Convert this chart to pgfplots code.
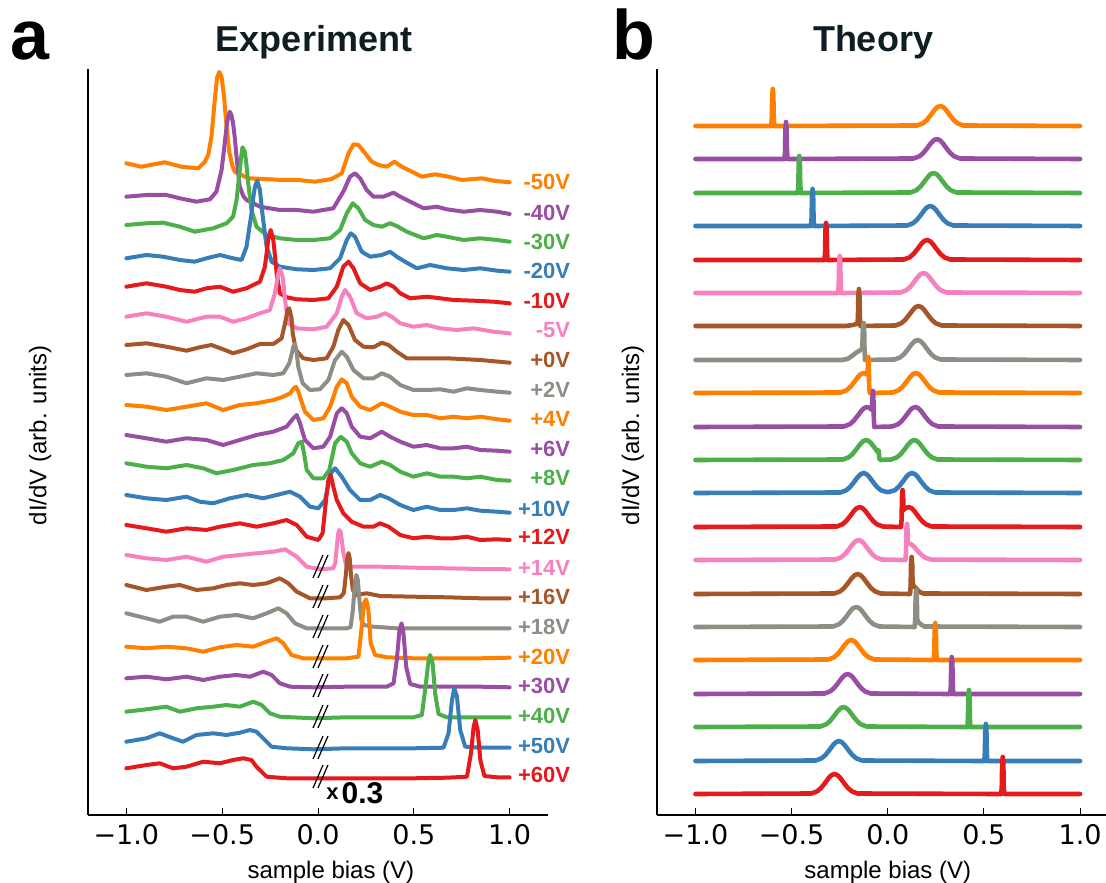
\documentclass[border=0pt]{standalone}
\usepackage{pgfplots}
\pgfplotsset{compat=1.18}
\usepackage{fontspec}
\setmainfont{Liberation Sans}
\newfontfamily\dejavu{DejaVu Sans}
\newcommand{\tf}{\dejavu\fontsize{13.5}{15}\selectfont}
\newcommand{\lf}{\fontsize{12}{14}\selectfont}
\definecolor{cO}{HTML}{FF7F00}
\definecolor{cP}{HTML}{984EA3}
\definecolor{cG}{HTML}{4DAF4A}
\definecolor{cB}{HTML}{377EB8}
\definecolor{cR}{HTML}{E41A1C}
\definecolor{cK}{HTML}{F781BF}
\definecolor{cN}{HTML}{A65628}
\definecolor{cY}{RGB}{142,142,134}
\definecolor{ttl}{RGB}{15,30,35}
\pgfplotsset{
 panel/.style={
  scale only axis, height=373pt, ymin=0, ymax=746, clip=false,
  axis x line=bottom, axis y line=left, axis line style={-, black, line width=0.6pt},
  ytick=\empty, xtick={-1,-0.5,0,0.5,1},
  xticklabels={{\tf −1.0},{\tf −0.5},{\tf 0.0},{\tf 0.5},{\tf 1.0}},
  xtick align=inside, major tick length=3.5pt,
  tick style={black, line width=0.5pt},
  xticklabel style={text=black, yshift=-1pt},
  every axis plot/.append style={line join=round, line cap=round, mark=none},
 },
 ex/.style={line width=2.0pt},
 th/.style={line width=2.3pt},
}
\newcommand{\vlab}[3]{\node[anchor=east, inner sep=0pt, text=#1, font=\bfseries\fontsize{11}{12}\selectfont] at (axis cs:1.317,#2) {#3};}
\begin{document}
\begin{tikzpicture}
\useasboundingbox (0,0) rectangle (553pt,441pt);
\begin{axis}[panel, at={(44pt,33.5pt)}, anchor=south west, width=230pt,
  xmin=-1.2, xmax=1.2,
  xlabel={\lf sample bias (V)}, ylabel={\lf dI/dV (arb. units)},
  xlabel style={at={(axis description cs:0.528,-0.0764)}, anchor=center},
  ylabel style={at={(axis description cs:-0.104,0.509)}, anchor=center}]
% -50V
\addplot[ex, cO] coordinates {(-1.0,651.7) (-0.922,648.3) (-0.800,652.7) (-0.713,648.3) (-0.625,646.7) (-0.591,653) (-0.573,660) (-0.556,678) (-0.540,712) (-0.527,737) (-0.515,743) (-0.503,738) (-0.490,718) (-0.477,688) (-0.462,662) (-0.445,648) (-0.434,643.3) (-0.364,636.7) (-0.277,636) (-0.190,635) (-0.103,635) (-0.016,633.3) (0.071,636) (0.124,641.7) (0.159,661.7) (0.185,670.7) (0.211,670) (0.246,661.7) (0.280,653.3) (0.315,650) (0.359,648.3) (0.399,653.3) (0.437,648.3) (0.490,643.3) (0.542,638.3) (0.611,640.7) (0.681,638.3) (0.751,635) (0.855,636.7) (0.925,634) (1.0,632.7)};
% -40V
\addplot[ex, cP] coordinates {(-1.0,618.3) (-0.895,620) (-0.791,620) (-0.721,616.7) (-0.634,613.3) (-0.564,615.7) (-0.530,623.3) (-0.503,645) (-0.490,666) (-0.477,688.3) (-0.468,699) (-0.460,703.3) (-0.452,700) (-0.443,691.7) (-0.434,677) (-0.425,658.3) (-0.416,641) (-0.408,628.3) (-0.390,619) (-0.373,615) (-0.303,608.3) (-0.199,605) (-0.111,605) (-0.024,603.3) (0.080,606.7) (0.132,623.3) (0.167,638.3) (0.193,641.7) (0.220,636.7) (0.254,625) (0.289,618.3) (0.341,618.3) (0.394,622.3) (0.429,618.3) (0.481,613.3) (0.551,606.7) (0.620,608.3) (0.672,605.7) (0.760,603.3) (0.847,605) (0.934,603.3) (1.0,601)};
% -30V
\addplot[ex, cG] coordinates {(-1.0,590) (-0.895,591.7) (-0.808,592.3) (-0.721,588.3) (-0.643,583.3) (-0.547,586.7) (-0.477,591.7) (-0.443,598.3) (-0.425,615) (-0.408,645) (-0.401,658) (-0.394,667.7) (-0.382,663.3) (-0.373,650) (-0.364,631.7) (-0.347,605) (-0.321,588.3) (-0.268,580) (-0.199,576.7) (-0.111,575) (-0.024,575) (0.063,576.7) (0.115,585) (0.150,601.7) (0.181,611.7) (0.211,606.7) (0.246,595) (0.289,590) (0.333,588.3) (0.376,591.7) (0.411,589) (0.463,583.3) (0.551,576.7) (0.620,580) (0.672,578.3) (0.760,575) (0.847,576.7) (0.934,575) (1.0,573.3)};
% -20V
\addplot[ex, cB] coordinates {(-1.0,556.7) (-0.895,560) (-0.808,558.3) (-0.721,555) (-0.643,553.3) (-0.582,556.7) (-0.512,560) (-0.443,556.7) (-0.399,555) (-0.373,568.3) (-0.347,601.7) (-0.338,617) (-0.329,628.3) (-0.317,634.3) (-0.303,625) (-0.295,610) (-0.286,595) (-0.268,568.3) (-0.242,553.3) (-0.199,548.3) (-0.111,545.7) (-0.024,545) (0.063,546.7) (0.115,556.7) (0.150,575) (0.171,581.7) (0.193,578.3) (0.228,563.3) (0.272,558.3) (0.333,560) (0.376,563.3) (0.411,558.3) (0.463,552.3) (0.516,546.7) (0.585,550) (0.672,546.7) (0.760,545) (0.847,546.7) (0.934,544.3) (1.0,543.3)};
% -10V
\addplot[ex, cR] coordinates {(-1.0,528.3) (-0.895,531.7) (-0.791,528.3) (-0.721,525) (-0.643,523.3) (-0.582,526.7) (-0.512,528.3) (-0.443,523.3) (-0.373,526.7) (-0.303,533.3) (-0.277,548.3) (-0.268,562) (-0.260,575) (-0.247,585) (-0.233,575) (-0.225,560) (-0.216,541.7) (-0.199,521.7) (-0.164,517.7) (-0.111,515.7) (-0.024,515) (0.054,516.7) (0.098,528.3) (0.132,548.3) (0.159,553.3) (0.185,546.7) (0.220,531.7) (0.272,525) (0.324,528.3) (0.359,531.7) (0.394,528.3) (0.429,521.7) (0.481,516.7) (0.568,518.3) (0.638,516.7) (0.707,515) (0.812,514.3) (0.916,513.3) (1.0,511.7)};
% -5V
\addplot[ex, cK] coordinates {(-1.0,498.3) (-0.895,501.7) (-0.791,498.3) (-0.686,493.3) (-0.582,498.3) (-0.512,498.3) (-0.443,493.3) (-0.373,496.7) (-0.303,501.7) (-0.251,505) (-0.225,521.7) (-0.215,533) (-0.207,541.7) (-0.199,546.7) (-0.185,538.3) (-0.178,527) (-0.172,515) (-0.155,491.7) (-0.111,486.7) (-0.024,485.7) (0.045,488.3) (0.098,501.7) (0.124,518.3) (0.141,525) (0.167,518.3) (0.202,501.7) (0.254,496.7) (0.307,498.3) (0.350,501.7) (0.385,498.3) (0.429,491.7) (0.498,488.3) (0.568,490) (0.638,486.7) (0.725,485) (0.812,486.7) (0.916,483.3) (1.0,481.7)};
% +0V
\addplot[ex, cN] coordinates {(-1.0,470) (-0.895,471.7) (-0.791,468.3) (-0.686,464.3) (-0.617,467.7) (-0.556,470) (-0.495,465.7) (-0.443,461.7) (-0.373,465.7) (-0.303,471) (-0.233,471) (-0.190,476.7) (-0.172,491.7) (-0.159,505) (-0.150,506.7) (-0.138,496.7) (-0.132,481.7) (-0.115,465) (-0.077,456.7) (-0.024,455) (0.045,456.7) (0.080,468.3) (0.106,485) (0.132,495) (0.159,490) (0.193,475) (0.237,468.3) (0.289,467.7) (0.333,472.3) (0.368,470) (0.411,463.3) (0.463,456.7) (0.568,456.7) (0.672,456.7) (0.847,455) (1.0,452.3)};
% +2V
\addplot[ex, cY] coordinates {(-1.0,440) (-0.895,441.7) (-0.791,438.3) (-0.686,431.7) (-0.582,436.7) (-0.495,435) (-0.408,438.3) (-0.321,441.7) (-0.233,440) (-0.181,441.7) (-0.150,451.7) (-0.136,462) (-0.129,468.3) (-0.120,471) (-0.111,462) (-0.103,448.3) (-0.080,431.7) (-0.042,425) (0.010,425.7) (0.054,435) (0.089,455) (0.124,463.3) (0.150,458.3) (0.185,445) (0.237,436.7) (0.289,436.7) (0.333,441.7) (0.376,438.3) (0.429,430) (0.498,425) (0.568,425) (0.638,425.7) (0.707,423.3) (0.777,426.7) (0.847,425) (0.934,423.3) (1.0,422.3)};
% +4V
\addplot[ex, cO] coordinates {(-1.0,410) (-0.895,408.3) (-0.791,405) (-0.686,408.3) (-0.582,411.7) (-0.495,405) (-0.408,410) (-0.321,411.7) (-0.233,415) (-0.181,418.3) (-0.146,421.7) (-0.125,427) (-0.115,428.3) (-0.104,424) (-0.094,418.3) (-0.068,403.3) (-0.024,395) (0.028,396.7) (0.063,408.3) (0.098,428.3) (0.124,435.7) (0.150,431.7) (0.176,418.3) (0.220,408.3) (0.272,405) (0.333,411.7) (0.376,408.3) (0.429,403.3) (0.498,400) (0.568,400) (0.638,396.7) (0.707,398.3) (0.777,396.7) (0.847,398.3) (0.934,395.7) (1.0,394.3)};
% +6V
\addplot[ex, cP] coordinates {(-1.0,380) (-0.895,376.7) (-0.791,373.3) (-0.686,376.7) (-0.582,375) (-0.495,370) (-0.408,375) (-0.321,380) (-0.233,383.3) (-0.164,388.3) (-0.129,396.7) (-0.111,400) (-0.094,391.7) (-0.068,375) (-0.024,366.7) (0.028,368.3) (0.063,378.3) (0.098,401.7) (0.124,406.7) (0.150,401.7) (0.176,388.3) (0.220,378.3) (0.272,376.7) (0.333,383.3) (0.376,378.3) (0.429,373.3) (0.498,368.3) (0.568,370) (0.638,366.7) (0.707,366.7) (0.777,368.3) (0.847,365) (0.934,364.3) (1.0,363.3)};
% +8V
\addplot[ex, cG] coordinates {(-1.0,351.7) (-0.895,348.3) (-0.791,346.7) (-0.686,350) (-0.599,346.7) (-0.530,341.7) (-0.443,345) (-0.338,350) (-0.251,351.7) (-0.181,355) (-0.129,361.7) (-0.103,371.7) (-0.085,373.3) (-0.073,361.7) (-0.059,345) (-0.024,336.7) (0.028,336.7) (0.059,345) (0.089,371.7) (0.118,378.3) (0.150,373.3) (0.176,361.7) (0.220,351.7) (0.272,348.3) (0.333,353.3) (0.376,350) (0.429,343.3) (0.498,338.3) (0.568,341.7) (0.638,338.3) (0.707,338.3) (0.777,336.7) (0.847,338.3) (0.934,335) (1.0,334.3)};
% +10V
\addplot[ex, cB] coordinates {(-1.0,320) (-0.895,316.7) (-0.791,315) (-0.686,318.3) (-0.617,313.3) (-0.547,311.7) (-0.460,316.7) (-0.373,320) (-0.286,316.7) (-0.216,320) (-0.146,323.3) (-0.094,318.3) (-0.042,308.3) (0.002,306.7) (0.037,315) (0.066,341.7) (0.089,346.7) (0.124,338.3) (0.167,325) (0.220,315) (0.272,315) (0.324,320) (0.368,316.7) (0.429,310) (0.498,305) (0.568,308.3) (0.638,305) (0.707,305) (0.777,306.7) (0.847,304.3) (0.934,303.3) (1.0,302.3)};
% +12V
\addplot[ex, cR] coordinates {(-1.0,290) (-0.895,286.7) (-0.791,283.3) (-0.686,286.7) (-0.582,285) (-0.512,288.3) (-0.408,291.7) (-0.321,288.3) (-0.233,291.7) (-0.164,295) (-0.111,290) (-0.059,278.3) (0.002,275) (0.024,281.7) (0.042,315) (0.054,335) (0.066,340) (0.080,328.3) (0.098,315) (0.132,301.7) (0.176,293.3) (0.237,288.3) (0.289,288.3) (0.324,291.7) (0.368,288.3) (0.429,280) (0.498,276.7) (0.568,278.3) (0.638,276.7) (0.707,276.7) (0.777,278.3) (0.847,275) (0.934,275.7) (1.0,275)};
% +14V
\addplot[ex, cK] coordinates {(-1.0,260) (-0.895,256.7) (-0.791,255) (-0.686,258.3) (-0.582,253.3) (-0.495,258.3) (-0.408,260) (-0.321,261.7) (-0.233,263.3) (-0.172,265.7) (-0.111,258.3) (-0.059,248.3) (0.010,245.7) (0.080,246.7) (0.090,252) (0.098,268) (0.104,280) (0.111,285) (0.118,283) (0.124,275) (0.132,262) (0.145,251) (0.159,248.3) (0.202,248.3) (0.324,248.3) (0.498,247.3) (0.672,246.7) (0.847,246) (1.0,245.7)};
% +16V
\addplot[ex, cN] coordinates {(-1.0,230) (-0.895,225) (-0.791,228.3) (-0.721,230) (-0.634,225) (-0.547,226.7) (-0.477,230) (-0.408,231.7) (-0.338,230) (-0.268,231.7) (-0.199,236.7) (-0.155,231.7) (-0.111,223.3) (-0.042,216.7) (0.045,216.7) (0.115,217.7) (0.135,222) (0.145,240) (0.152,256) (0.159,262) (0.166,256) (0.172,240) (0.182,225) (0.200,220) (0.254,221.7) (0.324,219) (0.498,218.3) (0.672,217.7) (0.847,216.7) (1.0,216.7)};
% +18V
\addplot[ex, cY] coordinates {(-1.0,201.7) (-0.895,196.7) (-0.826,193.3) (-0.756,198.3) (-0.686,198.3) (-0.599,193.3) (-0.512,198.3) (-0.425,200) (-0.338,196.7) (-0.268,201.7) (-0.207,206.7) (-0.164,201.7) (-0.120,191.7) (-0.059,186.7) (0.028,186.7) (0.150,186.7) (0.170,188) (0.182,205) (0.192,230) (0.200,240) (0.208,235) (0.216,215) (0.226,195) (0.240,190) (0.289,188.3) (0.411,186.7) (0.585,186.7) (0.760,186.7) (1.0,186.7)};
% +20V
\addplot[ex, cO] coordinates {(-1.0,168.3) (-0.895,166.7) (-0.791,168.3) (-0.686,166.7) (-0.599,163.3) (-0.512,167.7) (-0.425,170) (-0.338,168.3) (-0.268,173.3) (-0.216,176.7) (-0.181,171.7) (-0.138,160) (-0.077,156.7) (0.010,156.7) (0.150,156.7) (0.211,158.3) (0.228,188.3) (0.240,211.7) (0.251,215.7) (0.263,205) (0.275,171.7) (0.298,160) (0.359,157.7) (0.498,156.7) (0.672,156.7) (0.847,156.7) (1.0,157.3)};
% +30V
\addplot[ex, cP] coordinates {(-1.0,136.7) (-0.895,138.3) (-0.791,135.7) (-0.686,138.3) (-0.599,135) (-0.512,138.3) (-0.425,140) (-0.355,138.3) (-0.286,143.3) (-0.242,140) (-0.199,131.7) (-0.146,128.3) (-0.024,127.7) (0.150,128.3) (0.359,128.3) (0.394,131.7) (0.411,155) (0.425,185) (0.436,191.7) (0.446,181.7) (0.460,148.3) (0.481,131) (0.533,128.3) (0.672,128.3) (0.847,128.3) (1.0,127.7)};
% +40V
\addplot[ex, cG] coordinates {(-1.0,103.3) (-0.895,105.7) (-0.791,108.3) (-0.721,103.3) (-0.634,106.7) (-0.547,108.3) (-0.477,110) (-0.408,108.3) (-0.338,113.3) (-0.294,110) (-0.251,101.7) (-0.199,98.3) (-0.024,96.7) (0.150,97.7) (0.324,97.7) (0.498,97.7) (0.542,100) (0.563,131.7) (0.577,155) (0.585,160) (0.598,151.7) (0.611,121.7) (0.629,101) (0.672,97.7) (0.847,97.7) (1.0,97.7)};
% +50V
\addplot[ex, cB] coordinates {(-1.0,73.3) (-0.895,76.7) (-0.826,81.7) (-0.756,76.7) (-0.704,73.3) (-0.634,80) (-0.547,81.7) (-0.477,80) (-0.408,82.3) (-0.355,85) (-0.321,83.3) (-0.286,76.7) (-0.242,68.3) (-0.164,66.7) (-0.024,65.7) (0.150,66.7) (0.324,66.7) (0.498,66.7) (0.655,67.3) (0.681,81.7) (0.699,115) (0.711,126.7) (0.725,118.3) (0.742,85) (0.768,68.3) (0.847,67.3) (1.0,67.3)};
% +60V
\addplot[ex, cR] coordinates {(-1.0,46.7) (-0.895,50) (-0.826,51.7) (-0.756,46.7) (-0.686,48.3) (-0.599,53.3) (-0.512,51.7) (-0.443,55) (-0.390,56.7) (-0.347,55) (-0.321,48.3) (-0.268,38.3) (-0.164,36.7) (-0.024,36.7) (0.150,36.7) (0.324,36.7) (0.498,36.7) (0.672,37.3) (0.777,38.3) (0.798,61.7) (0.812,88.3) (0.821,95) (0.833,85) (0.847,55) (0.868,39) (0.934,37.7) (1.0,37.7)};
% axis break marks
\addplot[black, line width=0.6pt, line cap=butt, unbounded coords=jump] coordinates {
(-0.026,237) (0.026,260) (0,nan) (0,237) (0.052,260) (0,nan)
(-0.026,207) (0.026,230) (0,nan) (0,207) (0.052,230) (0,nan)
(-0.026,177) (0.026,200) (0,nan) (0,177) (0.052,200) (0,nan)
(-0.026,147) (0.026,170) (0,nan) (0,147) (0.052,170) (0,nan)
(-0.026,118) (0.026,141) (0,nan) (0,118) (0.052,141) (0,nan)
(-0.026,87) (0.026,110) (0,nan) (0,87) (0.052,110) (0,nan)
(-0.026,56) (0.026,79) (0,nan) (0,56) (0.052,79) (0,nan)
(-0.026,27) (0.026,50) (0,nan) (0,27) (0.052,50)};
\node[anchor=base west, inner sep=0pt, font=\bfseries] at (axis cs:0.042,12) {\raisebox{2pt}{\fontsize{11}{11}\selectfont x}\hspace{1.5pt}{\fontsize{15}{16}\selectfont 0.3}};
\vlab{cO}{633}{-50V}
\vlab{cP}{602}{-40V}
\vlab{cG}{573}{-30V}
\vlab{cB}{544}{-20V}
\vlab{cR}{514}{-10V}
\vlab{cK}{485}{-5V}
\vlab{cN}{455}{+0V}
\vlab{cY}{425}{+2V}
\vlab{cO}{396}{+4V}
\vlab{cP}{366}{+6V}
\vlab{cG}{337}{+8V}
\vlab{cB}{306}{+10V}
\vlab{cR}{278}{+12V}
\vlab{cK}{247}{+14V}
\vlab{cN}{218}{+16V}
\vlab{cY}{188}{+18V}
\vlab{cO}{158}{+20V}
\vlab{cP}{129}{+30V}
\vlab{cG}{99}{+40V}
\vlab{cB}{69}{+50V}
\vlab{cR}{40}{+60V}
\end{axis}
\begin{axis}[panel, at={(328.5pt,33.5pt)}, anchor=south west, width=224.5pt,
  xmin=-1.2, xmax=1.135,
  xlabel={\lf sample bias (V)}, ylabel={\lf dI/dV (arb. units)},
  xlabel style={at={(axis description cs:0.514,-0.0764)}, anchor=center},
  ylabel style={at={(axis description cs:-0.0535,0.509)}, anchor=center}]
\addplot[th, cO] coordinates {(-1,689) (-0.606,689) (-0.603,697) (-0.601,719) (-0.598,726) (-0.595,719) (-0.593,697) (-0.590,689) (0.153,689.5) (0.183,691.7) (0.203,695) (0.223,699.8) (0.243,705) (0.258,707.9) (0.273,709) (0.288,707.9) (0.303,705) (0.323,699.8) (0.343,695) (0.363,691.7) (0.393,689.5) (1,689)};
\addplot[th, cP] coordinates {(-1,656) (-0.537,656) (-0.534,664) (-0.532,686) (-0.529,693) (-0.526,686) (-0.524,664) (-0.521,656) (0.135,656.5) (0.165,658.7) (0.185,662) (0.205,666.8) (0.225,672) (0.240,674.9) (0.255,676) (0.270,674.9) (0.285,672) (0.305,666.8) (0.325,662) (0.345,658.7) (0.375,656.5) (1,656)};
\addplot[th, cG] coordinates {(-1,622) (-0.468,622) (-0.465,630) (-0.463,652) (-0.460,659) (-0.457,652) (-0.455,630) (-0.452,622) (0.118,622.5) (0.148,624.7) (0.168,628) (0.188,632.8) (0.208,638) (0.223,640.9) (0.238,642) (0.253,640.9) (0.268,638) (0.288,632.8) (0.308,628) (0.328,624.7) (0.358,622.5) (1,622)};
\addplot[th, cB] coordinates {(-1,589) (-0.399,589) (-0.396,597) (-0.394,619) (-0.391,626) (-0.388,619) (-0.386,597) (-0.383,589) (0.101,589.5) (0.131,591.7) (0.151,595) (0.171,599.8) (0.191,605) (0.206,607.9) (0.221,609) (0.236,607.9) (0.251,605) (0.271,599.8) (0.291,595) (0.311,591.7) (0.341,589.5) (1,589)};
\addplot[th, cR] coordinates {(-1,555) (-0.329,555) (-0.326,563) (-0.324,585) (-0.321,592) (-0.318,585) (-0.316,563) (-0.313,555) (0.084,555.5) (0.114,557.7) (0.134,561) (0.154,565.8) (0.174,571) (0.189,573.9) (0.204,575) (0.219,573.9) (0.234,571) (0.254,565.8) (0.274,561) (0.294,557.7) (0.324,555.5) (1,555)};
\addplot[th, cK] coordinates {(-1,522) (-0.258,522) (-0.255,530) (-0.253,552) (-0.250,559) (-0.247,552) (-0.245,530) (-0.242,522) (0.066,522.5) (0.096,524.7) (0.116,528) (0.136,532.8) (0.156,538) (0.171,540.9) (0.186,542) (0.201,540.9) (0.216,538) (0.236,532.8) (0.256,528) (0.276,524.7) (0.306,522.5) (1,522)};
\addplot[th, cN] coordinates {(-1,489) (-0.22,489) (-0.18,490) (-0.165,491) (-0.158,491) (-0.155,497) (-0.153,519) (-0.150,526) (-0.147,519) (-0.145,497) (-0.142,489) (0.040,489.5) (0.070,491.7) (0.090,495) (0.110,499.8) (0.130,505) (0.145,507.9) (0.160,509) (0.175,507.9) (0.190,505) (0.210,499.8) (0.230,495) (0.250,491.7) (0.280,489.5) (1,489)};
\addplot[th, cY] coordinates {(-1,455) (-0.24,455) (-0.21,456) (-0.19,458.5) (-0.17,461.5) (-0.15,464) (-0.134,466) (-0.131,475) (-0.129,487) (-0.126,492) (-0.123,487) (-0.121,466) (-0.118,455) (0.035,455.5) (0.065,457.7) (0.085,461) (0.105,465.8) (0.125,471) (0.140,473.9) (0.155,475) (0.170,473.9) (0.185,471) (0.205,465.8) (0.225,461) (0.245,457.7) (0.275,455.5) (1,455)};
\addplot[th, cO] coordinates {(-1,422) (-0.245,422.5) (-0.215,424.7) (-0.195,428) (-0.175,432.8) (-0.155,438) (-0.14,440.9) (-0.125,442) (-0.11,441) (-0.105,440) (-0.103,452) (-0.101,458) (-0.099,452) (-0.097,430) (-0.094,422) (0.026,422.5) (0.056,424.7) (0.076,428) (0.096,432.8) (0.116,438) (0.131,440.9) (0.146,442) (0.161,440.9) (0.176,438) (0.196,432.8) (0.216,428) (0.236,424.7) (0.266,422.5) (1,422)};
\addplot[th, cP] coordinates {(-1,388) (-0.228,388.5) (-0.198,390.7) (-0.178,394) (-0.158,398.8) (-0.138,404) (-0.123,406.9) (-0.108,408) (-0.093,406.9) (-0.083,405) (-0.081,412) (-0.079,420) (-0.077,424) (-0.075,420) (-0.073,400) (-0.070,388) (0.023,388.5) (0.053,390.7) (0.073,394) (0.093,398.8) (0.113,404) (0.128,406.9) (0.143,408) (0.158,406.9) (0.173,404) (0.193,398.8) (0.213,394) (0.233,390.7) (0.263,388.5) (1,388)};
\addplot[th, cG] coordinates {(-1,355) (-0.233,355.5) (-0.203,357.7) (-0.183,361) (-0.163,365.8) (-0.143,371) (-0.128,373.9) (-0.113,375) (-0.098,373.9) (-0.083,371) (-0.063,365.8) (-0.053,363) (-0.050,365) (-0.047,364) (-0.044,357) (-0.040,355) (0.018,355.5) (0.048,357.7) (0.068,361) (0.088,365.8) (0.108,371) (0.123,373.9) (0.138,375) (0.153,373.9) (0.168,371) (0.188,365.8) (0.208,361) (0.228,357.7) (0.258,355.5) (1,355)};
\addplot[th, cB] coordinates {(-1,322) (-0.246,322.5) (-0.216,324.7) (-0.196,328) (-0.176,332.8) (-0.156,338) (-0.141,340.9) (-0.126,342) (-0.111,340.9) (-0.096,338) (-0.076,332.8) (-0.056,328) (-0.036,324.7) (0,322.8) (0.036,324.7) (0.056,328) (0.076,332.8) (0.096,338) (0.111,340.9) (0.126,342) (0.141,340.9) (0.156,338) (0.176,332.8) (0.196,328) (0.216,324.7) (0.246,322.5) (1,322)};
\addplot[th, cR] coordinates {(-1,288) (-0.266,288.5) (-0.236,290.7) (-0.216,294) (-0.196,298.8) (-0.176,304) (-0.161,306.9) (-0.146,308) (-0.131,306.9) (-0.116,304) (-0.096,298.8) (-0.076,294) (-0.056,290.7) (-0.026,288.5) (0.069,288) (0.072,296) (0.074,318) (0.077,325) (0.080,318) (0.082,305) (0.093,306.9) (0.108,308) (0.123,306.9) (0.138,304) (0.158,298.8) (0.178,294) (0.198,290.7) (0.228,288.5) (1,288)};
\addplot[th, cK] coordinates {(-1,255) (-0.272,255.5) (-0.242,257.7) (-0.222,261) (-0.202,265.8) (-0.182,271) (-0.167,273.9) (-0.152,275) (-0.137,273.9) (-0.122,271) (-0.102,265.8) (-0.082,261) (-0.062,257.7) (-0.032,255.5) (0.092,255) (0.095,263) (0.097,285) (0.100,291) (0.103,285) (0.105,272) (0.12,271) (0.135,268.6) (0.155,264.2) (0.175,260.1) (0.195,257.3) (0.225,255.4) (1,255)};
\addplot[th, cN] coordinates {(-1,221) (-0.277,221.5) (-0.247,223.7) (-0.227,227) (-0.207,231.8) (-0.187,237) (-0.172,239.9) (-0.157,241) (-0.142,239.9) (-0.127,237) (-0.107,231.8) (-0.087,227) (-0.067,223.7) (-0.037,221.5) (0.116,221) (0.119,229) (0.121,251) (0.124,258) (0.127,251) (0.129,232) (0.135,229) (0.15,226) (0.165,223) (0.185,221.5) (1,221)};
\addplot[th, cY] coordinates {(-1,188) (-0.284,188.5) (-0.254,190.7) (-0.234,194) (-0.214,198.8) (-0.194,204) (-0.179,206.9) (-0.164,208) (-0.149,206.9) (-0.134,204) (-0.114,198.8) (-0.094,194) (-0.074,190.7) (-0.044,188.5) (0.140,188) (0.143,196) (0.145,218) (0.148,225) (0.151,218) (0.153,196) (0.158,193) (0.17,191) (0.19,188.5) (1,188)};
\addplot[th, cO] coordinates {(-1,155) (-0.310,155.5) (-0.280,157.7) (-0.260,161) (-0.240,165.8) (-0.220,171) (-0.205,173.9) (-0.190,175) (-0.175,173.9) (-0.160,171) (-0.140,165.8) (-0.120,161) (-0.100,157.7) (-0.070,155.5) (0.239,155) (0.242,163) (0.244,185) (0.247,192) (0.250,185) (0.252,163) (0.255,155) (1,155)};
\addplot[th, cP] coordinates {(-1,121) (-0.329,121.5) (-0.299,123.7) (-0.279,127) (-0.259,131.8) (-0.239,137) (-0.224,139.9) (-0.209,141) (-0.194,139.9) (-0.179,137) (-0.159,131.8) (-0.139,127) (-0.119,123.7) (-0.089,121.5) (0.325,121) (0.328,129) (0.330,151) (0.333,158) (0.336,151) (0.338,129) (0.341,121) (1,121)};
\addplot[th, cG] coordinates {(-1,88) (-0.350,88.5) (-0.320,90.7) (-0.300,94) (-0.280,98.8) (-0.260,104) (-0.245,106.9) (-0.230,108) (-0.215,106.9) (-0.200,104) (-0.180,98.8) (-0.160,94) (-0.140,90.7) (-0.110,88.5) (0.414,88) (0.417,96) (0.419,118) (0.422,125) (0.425,118) (0.427,96) (0.430,88) (1,88)};
\addplot[th, cB] coordinates {(-1,54) (-0.374,54.5) (-0.344,56.7) (-0.324,60) (-0.304,64.8) (-0.284,70) (-0.269,72.9) (-0.254,74) (-0.239,72.9) (-0.224,70) (-0.204,64.8) (-0.184,60) (-0.164,56.7) (-0.134,54.5) (0.502,54) (0.505,62) (0.507,84) (0.510,91) (0.513,84) (0.515,62) (0.518,54) (1,54)};
\addplot[th, cR] coordinates {(-1,21) (-0.397,21.5) (-0.367,23.7) (-0.347,27) (-0.327,31.8) (-0.307,37) (-0.292,39.9) (-0.277,41) (-0.262,39.9) (-0.247,37) (-0.227,31.8) (-0.207,27) (-0.187,23.7) (-0.157,21.5) (0.590,21) (0.593,29) (0.595,51) (0.598,58) (0.601,51) (0.603,29) (0.606,21) (1,21)};
\end{axis}
\node[anchor=base, inner sep=0pt, text=ttl, font=\bfseries\fontsize{18}{20}\selectfont] at (157pt,415pt) {Experiment};
\node[anchor=base, inner sep=0pt, text=ttl, font=\bfseries\fontsize{18}{20}\selectfont] at (436.5pt,415pt) {Theory};
\node[anchor=base west, inner sep=0pt, font=\bfseries\fontsize{35}{40}\selectfont] at (5pt,411pt) {a};
\node[anchor=base west, inner sep=0pt, font=\bfseries\fontsize{35}{40}\selectfont] at (306pt,411pt) {b};
\end{tikzpicture}
\end{document}
